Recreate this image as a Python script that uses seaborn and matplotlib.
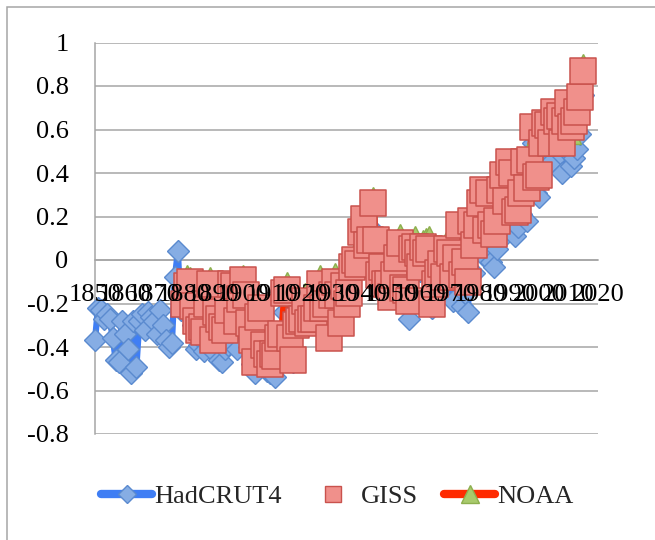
import numpy as np
import matplotlib
matplotlib.use("Agg")
import matplotlib.pyplot as plt
import seaborn as sns
from matplotlib.lines import Line2D
from matplotlib.patches import Rectangle

# Annual temperature anomalies (deg C)
had_years = list(range(1850, 2016))
hadcrut4 = [
    -0.37, -0.22, -0.23, -0.27, -0.25, -0.27, -0.36, -0.46, -0.47, -0.28,
    -0.34, -0.41, -0.52, -0.28, -0.49, -0.28, -0.25, -0.32, -0.24, -0.26,
    -0.28, -0.34, -0.23, -0.30, -0.37, -0.40, -0.38, -0.08, 0.04, -0.23,
    -0.23, -0.20, -0.21, -0.30, -0.41, -0.39, -0.37, -0.42, -0.31, -0.17,
    -0.42, -0.33, -0.46, -0.47, -0.41, -0.39, -0.19, -0.21, -0.41, -0.29,
    -0.20, -0.26, -0.40, -0.48, -0.52, -0.38, -0.28, -0.47, -0.51, -0.52,
    -0.49, -0.54, -0.44, -0.42, -0.24, -0.14, -0.38, -0.47, -0.33, -0.28,
    -0.25, -0.19, -0.30, -0.28, -0.29, -0.22, -0.11, -0.21, -0.21, -0.35,
    -0.14, -0.09, -0.14, -0.27, -0.13, -0.18, -0.15, -0.03, -0.01, -0.05,
    0.01, 0.02, -0.03, 0.00, 0.14, 0.03, -0.07, -0.04, -0.04, -0.07,
    -0.17, -0.05, 0.03, 0.10, -0.13, -0.19, -0.27, -0.01, 0.05, 0.02,
    -0.05, 0.04, 0.01, 0.05, -0.22, -0.14, -0.07, -0.07, -0.11, 0.03,
    -0.03, -0.19, -0.07, 0.06, -0.21, -0.15, -0.24, 0.05, -0.06, 0.06,
    0.09, 0.14, 0.01, 0.19, -0.01, -0.03, 0.05, 0.19, 0.20, 0.12,
    0.30, 0.25, 0.11, 0.15, 0.21, 0.33, 0.18, 0.39, 0.54, 0.31,
    0.29, 0.44, 0.50, 0.51, 0.45, 0.55, 0.51, 0.49, 0.40, 0.51,
    0.56, 0.43, 0.47, 0.51, 0.58, 0.76,
]

giss_years = list(range(1880, 2016))
giss = [
    -0.20, -0.12, -0.10, -0.21, -0.28, -0.32, -0.31, -0.33, -0.20, -0.11,
    -0.37, -0.24, -0.27, -0.31, -0.32, -0.23, -0.11, -0.12, -0.28, -0.18,
    -0.09, -0.16, -0.29, -0.37, -0.47, -0.26, -0.22, -0.39, -0.43, -0.48,
    -0.43, -0.44, -0.36, -0.34, -0.15, -0.14, -0.36, -0.46, -0.30, -0.28,
    -0.27, -0.19, -0.29, -0.27, -0.27, -0.22, -0.11, -0.22, -0.20, -0.36,
    -0.16, -0.10, -0.16, -0.29, -0.12, -0.20, -0.15, -0.03, 0.00, -0.02,
    0.13, 0.19, 0.07, 0.09, 0.26, 0.09, -0.07, -0.03, -0.11, -0.11,
    -0.17, -0.07, 0.01, 0.08, -0.13, -0.14, -0.19, 0.05, 0.06, 0.03,
    -0.03, 0.06, 0.03, 0.05, -0.20, -0.11, -0.06, -0.02, -0.08, 0.05,
    0.03, -0.08, 0.01, 0.16, -0.07, -0.01, -0.10, 0.18, 0.07, 0.16,
    0.26, 0.32, 0.14, 0.31, 0.16, 0.12, 0.18, 0.32, 0.39, 0.27,
    0.45, 0.40, 0.22, 0.23, 0.31, 0.45, 0.33, 0.46, 0.61, 0.38,
    0.39, 0.54, 0.63, 0.62, 0.54, 0.68, 0.64, 0.66, 0.54, 0.64,
    0.72, 0.61, 0.64, 0.68, 0.75, 0.87,
]

noaa_years = list(range(1880, 2016))
noaa = [
    -0.12, -0.07, -0.08, -0.15, -0.22, -0.22, -0.21, -0.25, -0.13, -0.08,
    -0.30, -0.22, -0.26, -0.30, -0.28, -0.23, -0.09, -0.09, -0.25, -0.15,
    -0.07, -0.14, -0.25, -0.34, -0.43, -0.27, -0.21, -0.38, -0.42, -0.44,
    -0.41, -0.42, -0.35, -0.33, -0.16, -0.10, -0.32, -0.37, -0.26, -0.24,
    -0.23, -0.15, -0.24, -0.22, -0.23, -0.17, -0.07, -0.15, -0.15, -0.30,
    -0.09, -0.06, -0.10, -0.24, -0.09, -0.14, -0.11, 0.00, 0.01, 0.01,
    0.09, 0.13, 0.07, 0.08, 0.29, 0.09, -0.05, -0.04, -0.05, -0.07,
    -0.15, -0.02, 0.04, 0.12, -0.11, -0.12, -0.19, 0.06, 0.11, 0.06,
    0.02, 0.09, 0.10, 0.11, -0.14, -0.08, -0.02, 0.00, -0.04, 0.09,
    0.04, -0.07, 0.03, 0.16, -0.07, 0.00, -0.09, 0.17, 0.07, 0.16,
    0.25, 0.29, 0.15, 0.32, 0.13, 0.11, 0.18, 0.32, 0.37, 0.28,
    0.43, 0.40, 0.23, 0.26, 0.32, 0.45, 0.32, 0.51, 0.63, 0.41,
    0.41, 0.55, 0.61, 0.62, 0.57, 0.66, 0.62, 0.61, 0.54, 0.64,
    0.70, 0.58, 0.62, 0.67, 0.74, 0.90,
]

x_ticks = list(range(1850, 2021, 10))
x_labels = [str(y) for y in x_ticks]
y_ticks = [-0.8, -0.6, -0.4, -0.2, 0, 0.2, 0.4, 0.6, 0.8, 1]
y_labels = ["-0.8", "-0.6", "-0.4", "-0.2", "0", "0.2", "0.4", "0.6", "0.8", "1"]

# Colours
blue_line = "#3F7EF4"
diamond_fill = "#86ADE4"
diamond_edge = "#5A8ACF"
red_line = "#FF2A00"
square_fill = "#F0908B"
square_edge = "#C9524D"
tri_fill = "#A8CA6C"
tri_edge = "#8DAF4E"
grid_grey = "#A6A6A6"

sns.set_style("white")
plt.rcParams["font.family"] = ["Liberation Serif", "DejaVu Serif"]

fig = plt.figure(figsize=(6.55, 5.40), dpi=100)
ax = fig.add_axes([95 / 655, 1 - 434 / 540, (598 - 95) / 655, (434 - 42.5) / 540])

# HadCRUT4: thick blue line with diamonds
sns.lineplot(x=had_years, y=hadcrut4, ax=ax, color=blue_line, lw=4.5,
             marker="D", markersize=10.8, markerfacecolor=diamond_fill,
             markeredgecolor=diamond_edge, markeredgewidth=1,
             solid_capstyle="round", solid_joinstyle="round",
             zorder=3, clip_on=False)

# NOAA: red line with triangles
sns.lineplot(x=noaa_years, y=noaa, ax=ax, color=red_line, lw=4.5,
             marker="^", markersize=14, markerfacecolor=tri_fill,
             markeredgecolor=tri_edge, markeredgewidth=1,
             solid_capstyle="round", solid_joinstyle="round",
             zorder=4, clip_on=False)

# GISS: squares only
sns.scatterplot(x=giss_years, y=giss, ax=ax, marker="s", s=18.5 ** 2,
                color=square_fill, edgecolor=square_edge, linewidth=1.1,
                zorder=5, clip_on=False)

ax.set_xlim(1850, 2020)
ax.set_ylim(-0.8, 1)
ax.set_xticks(x_ticks)
ax.set_xticklabels(x_labels)
ax.set_yticks(y_ticks)
ax.set_yticklabels(y_labels)

ax.grid(axis="y", color=grid_grey, lw=1.1)
ax.grid(axis="x", visible=False)
for side in ["top", "right"]:
    ax.spines[side].set_visible(False)
ax.spines["left"].set_color(grid_grey)
ax.spines["left"].set_linewidth(1.1)
ax.spines["bottom"].set_position(("data", 0))
ax.spines["bottom"].set_color(grid_grey)
ax.spines["bottom"].set_linewidth(1.1)

ax.tick_params(axis="x", direction="out", length=6, width=1.1, color=grid_grey,
               pad=11, labelsize=19, labelcolor="black")
ax.tick_params(axis="y", direction="out", length=6, width=1.1, color=grid_grey,
               pad=13, labelsize=19, labelcolor="black")
# year labels sit over the markers, like the original
ax.xaxis.set_zorder(10)

# Legend
handles = [
    Line2D([], [], color=blue_line, lw=6, marker="D", markersize=9,
           markerfacecolor=diamond_fill, markeredgecolor=diamond_edge,
           solid_capstyle="round"),
    Line2D([], [], lw=0, marker="s", markersize=12,
           markerfacecolor=square_fill, markeredgecolor=square_edge),
    Line2D([], [], color=red_line, lw=6, marker="^", markersize=13,
           markerfacecolor=tri_fill, markeredgecolor=tri_edge,
           solid_capstyle="round"),
]
fig.legend(handles, ["HadCRUT4", "GISS", "NOAA"], loc="center",
           bbox_to_anchor=(337 / 655, 1 - 496 / 540), ncol=3, frameon=False,
           fontsize=19, handlelength=1.95, handletextpad=0.05,
           columnspacing=1.0, borderpad=0)

# outer chart frame (cut off at the right and bottom edges)
fig.patches.append(Rectangle((7 / 655, -0.1), 1.2, 1.1 - 7.5 / 540,
                             transform=fig.transFigure, fill=False,
                             edgecolor=grid_grey, lw=1.1))

fig.savefig("out.png", dpi=100)
